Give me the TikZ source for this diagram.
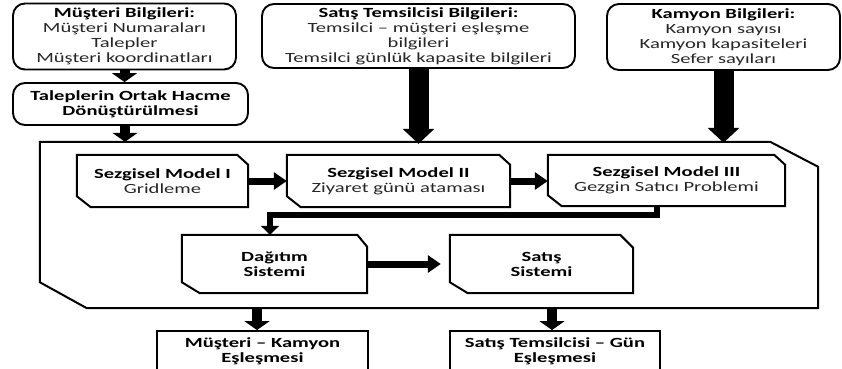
\documentclass[tikz,border=0pt]{standalone}
\usepackage{fontspec}
\setmainfont{Carlito}[FakeStretch=1.47]
\usetikzlibrary{arrows.meta}

\tikzset{
  base/.style={font=\fontsize{14}{15}\selectfont, align=center, inner sep=0pt, text=black!85},
  infobox/.style={base, draw, line width=1.9pt, rounded corners=12pt},
  resultbox/.style={base, draw, line width=1.9pt},
  cutnode/.style={base},
  cutline/.style={line width=2pt, line join=miter},
  bigarrow/.style={line width=20pt, -{Triangle[width=31pt,length=15pt]}},
  medarrow/.style={line width=10pt, -{Triangle[width=25pt,length=9pt]}},
  smallarrow/.style={line width=7pt, -{Triangle[width=17pt,length=13pt]}},
  elbowarrow/.style={line width=6pt, -{Triangle[width=18pt,length=9pt]}},
}

% outline with the north-east and south-west corners cut off
\newcommand{\cutbox}[5]{%
  \draw[cutline] (#1.north west) -- ([xshift=-#2pt]#1.north east)
    -- ([yshift=-#3pt]#1.north east) -- (#1.south east)
    -- ([xshift=#4pt]#1.south west) -- ([yshift=#5pt]#1.south west) -- cycle;}

\newcommand{\hd}[1]{\textcolor{black}{\textbf{#1}}}

\begin{document}
\begin{tikzpicture}[x=1pt, y=-1pt]
\useasboundingbox (0,0) rectangle (842,368);
\clip (0,0) rectangle (842,368);

% input data
\node[infobox, minimum width=223pt, minimum height=66pt] (cust) at (124.5,36.5)
  {\hd{Müşteri Bilgileri:}\\Müşteri Numaraları\\Talepler\\Müşteri koordinatları};
\node[infobox, minimum width=313pt, minimum height=64pt] (rep) at (418.5,36)
  {\hd{Satış Temsilcisi Bilgileri:}\\Temsilci -- müşteri eşleşme\\bilgileri\\Temsilci günlük kapasite bilgileri};
\node[infobox, minimum width=233pt, minimum height=66pt] (truck) at (723.5,37)
  {\hd{Kamyon Bilgileri:}\\Kamyon sayısı\\Kamyon kapasiteleri\\Sefer sayıları};
\node[infobox, minimum width=235pt, minimum height=42pt] (conv) at (130.5,104)
  {\hd{Taleplerin Ortak Hacme}\\\hd{Dönüştürülmesi}};

% solution system frame
\node[cutnode, minimum width=778pt, minimum height=166pt] (sys) at (429,225) {};
\cutbox{sys}{48}{25}{47}{26}

% heuristic models
\node[cutnode, minimum width=171pt, minimum height=52pt] (m1) at (162.5,181)
  {\hd{Sezgisel Model I}\\Gridleme};
\cutbox{m1}{11}{10}{14}{11}
\node[cutnode, minimum width=223pt, minimum height=52pt] (m2) at (398.5,181)
  {\hd{Sezgisel Model II}\\Ziyaret günü ataması};
\cutbox{m2}{11}{10}{14}{11}
\node[cutnode, minimum width=237pt, minimum height=51pt] (m3) at (666.5,180.5)
  {\hd{Sezgisel Model III}\\Gezgin Satıcı Problemi};
\cutbox{m3}{11}{10}{14}{11}

% subsystems
\node[cutnode, minimum width=185pt, minimum height=58pt] (dist) at (274.5,264)
  {\hd{Dağıtım}\\\hd{Sistemi}};
\cutbox{dist}{10}{12}{18}{11}
\node[cutnode, minimum width=183pt, minimum height=58pt] (sales) at (541.5,264)
  {\hd{Satış}\\\hd{Sistemi}};
\cutbox{sales}{13}{13}{18}{11}

% results
\node[resultbox, minimum width=211pt, minimum height=41pt] (res1) at (262.5,351.5)
  {\hd{Müşteri -- Kamyon}\\\hd{Eşleşmesi}};
\node[resultbox, minimum width=210pt, minimum height=41pt] (res2) at (555,351.5)
  {\hd{Satış Temsilcisi -- Gün}\\\hd{Eşleşmesi}};

% connectors
\coordinate (convout) at ([xshift=-5.5pt]conv.south);
\coordinate (dropA) at ([xshift=-5.5pt]res1.north);
\coordinate (dropB) at ([xshift=-3pt]res2.north);
\coordinate (m3out) at ([xshift=-9.5pt]m3.south);
\coordinate (distin) at ([xshift=-4.5pt]dist.north);

\draw[medarrow] (cust.south) -- (cust.south |- conv.north);
\draw[medarrow] (convout) -- (convout |- sys.north);
\draw[bigarrow] (rep.south) -- ([yshift=-2pt]rep.south |- sys.north);
\draw[bigarrow] (truck.south) -- ([yshift=-1pt]truck.south |- sys.north);

\draw[smallarrow] (m1.east) -- (m1.east -| m2.west);
\draw[smallarrow] (m2.east) -- (m2.east -| m3.west);
\draw[elbowarrow] (m3out) -- ++(0,8.5) -| (distin);
\draw[smallarrow, shorten >=9pt] (dist.east) -- (dist.east -| sales.west);

\draw[medarrow] (dropA |- sys.south) -- (dropA);
\draw[medarrow] (dropB |- sys.south) -- (dropB);
\end{tikzpicture}
\end{document}
